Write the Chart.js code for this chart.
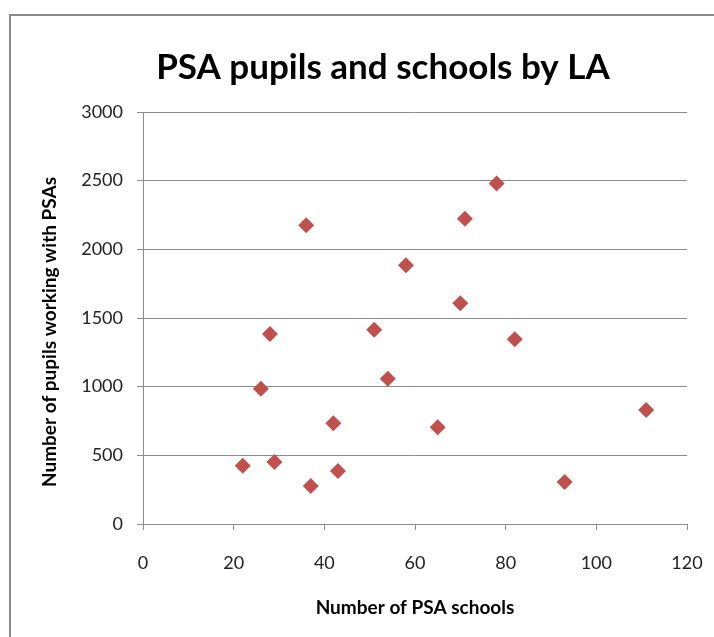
<!DOCTYPE html>
<html>
<head>
<meta charset="utf-8">
<script src="https://cdn.jsdelivr.net/npm/chart.js@4.4.1/dist/chart.umd.min.js"></script>
<style>
  html, body { margin: 0; padding: 0; background: #ffffff; }
  #wrap { position: relative; width: 714px; height: 637px; overflow: hidden; }
  #frame {
    position: absolute; left: 9px; top: 14px; right: -10px; bottom: -10px;
    border-left: 2px solid #8a8a8a; border-top: 2px solid #8a8a8a;
    pointer-events: none;
  }
  canvas { position: absolute; left: 0; top: 0; }
</style>
</head>
<body>
<div id="wrap">
  <canvas id="chart" width="714" height="637"></canvas>
  <div id="frame"></div>
</div>
<script>
// Number of PSA schools per local authority
const psaSchools = [22, 26, 28, 29, 36, 37, 42, 43, 51, 54, 58, 65, 70, 71, 78, 82, 93, 111];
// Number of pupils working with PSAs in the same authority
const psaPupils = [425, 985, 1383, 451, 2175, 277, 733, 386, 1415, 1058, 1884, 704, 1607, 2223, 2480, 1345, 306, 830];

const xTicks = [0, 20, 40, 60, 80, 100, 120];
const yTicks = [0, 500, 1000, 1500, 2000, 2500, 3000];

const chartTitle = 'PSA pupils and schools by LA';
const xTitle = 'Number of PSA schools';
const yTitle = 'Number of pupils working with PSAs';

const points = psaSchools.map((x, i) => ({ x: x, y: psaPupils[i] }));

const FONT = "Lato, 'Open Sans', sans-serif";
const gridColor = '#8c8c8c';

// Main title and the vertical axis title, placed freely on the canvas
const titlesPlugin = {
  id: 'titles',
  afterDraw(chart) {
    const ctx = chart.ctx;
    ctx.save();
    ctx.fillStyle = '#000000';
    ctx.textAlign = 'center';
    ctx.textBaseline = 'middle';
    ctx.font = "bold 35px " + FONT;
    ctx.fillText(chartTitle, 383, 68);
    ctx.translate(50, 332);
    ctx.rotate(-Math.PI / 2);
    ctx.font = "bold 19px " + FONT;
    ctx.fillText(yTitle, 0, 0);
    ctx.restore();
  }
};

new Chart(document.getElementById('chart'), {
  type: 'scatter',
  data: {
    datasets: [{
      label: 'PSA pupils',
      data: points,
      pointStyle: 'rectRot',
      pointRadius: 8,
      pointHoverRadius: 8,
      backgroundColor: '#C0504D',
      borderColor: '#C0504D',
      borderWidth: 0
    }]
  },
  plugins: [titlesPlugin],
  options: {
    responsive: false,
    animation: false,
    devicePixelRatio: 1,
    layout: { padding: { left: 0, right: 27, top: 112, bottom: 0 } },
    plugins: {
      legend: { display: false },
      tooltip: { enabled: false },
      title: { display: false }
    },
    scales: {
      x: {
        type: 'linear',
        min: xTicks[0],
        max: xTicks[xTicks.length - 1],
        afterBuildTicks: (axis) => { axis.ticks = xTicks.map(v => ({ value: v })); },
        afterFit: (axis) => {
          axis.height = 113;
          axis.paddingLeft = 0;
          axis.paddingRight = 0;
        },
        grid: { display: true, drawOnChartArea: false, color: gridColor, tickLength: 6, tickColor: gridColor },
        border: { display: true, color: gridColor, width: 1 },
        ticks: {
          color: '#222222', padding: 22, maxRotation: 0,
          font: { family: FONT, size: 18 },
          callback: (v) => String(v)
        },
        title: {
          display: true,
          text: xTitle,
          color: '#000000',
          font: { family: FONT, size: 19, weight: 'bold', lineHeight: 1.2 },
          padding: { top: 0, bottom: 18 }
        }
      },
      y: {
        type: 'linear',
        min: yTicks[0],
        max: yTicks[yTicks.length - 1],
        afterBuildTicks: (axis) => { axis.ticks = yTicks.map(v => ({ value: v })); },
        afterFit: (axis) => {
          axis.width = 143;
          axis.paddingTop = 0;
          axis.paddingBottom = 0;
        },
        grid: { display: true, color: gridColor, tickLength: 6, tickColor: gridColor, lineWidth: 1 },
        border: { display: true, color: gridColor, width: 1 },
        ticks: {
          color: '#222222', padding: 14,
          font: { family: FONT, size: 18 },
          callback: (v) => String(v)
        },
        title: { display: false }
      }
    }
  }
});
</script>
</body>
</html>
